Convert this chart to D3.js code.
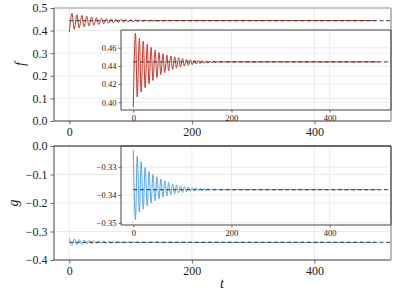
<!DOCTYPE html>
<html>
<head>
<meta charset="utf-8">
<script src="https://cdn.jsdelivr.net/npm/d3@7"></script>
<style>
  body { margin: 0; background: #fff; }
  svg { display: block; }
  text { font-family: "Liberation Serif", "DejaVu Serif", serif; fill: #222; }
</style>
</head>
<body>
<div id="chart"></div>
<script>
// turning points of the two series
const tVals = [0, 4.5, 8, 12.5, 16, 20.5, 24, 28.5, 32, 36.5, 40, 44.5, 48, 52.5, 56, 60.5,
  64, 68.5, 72, 76.5, 80, 84.5, 88, 92.5, 96, 100.5, 104, 108.5, 112, 116.5, 120, 124.5,
  128, 132.5, 136, 140.5, 144, 148.5, 152, 156.5, 160, 164.5, 168, 172.5, 176, 180.5,
  184, 190, 300, 400, 500];
const fVals = [0.3949, 0.4759, 0.4058, 0.4704, 0.4112, 0.4674, 0.4160, 0.4640, 0.4204, 0.4604,
  0.4240, 0.4574, 0.4269, 0.4548, 0.4305, 0.4534, 0.4326, 0.4521, 0.4346, 0.4509,
  0.4362, 0.4499, 0.4376, 0.4490, 0.4388, 0.4482, 0.4398, 0.4475, 0.4407, 0.4469,
  0.4414, 0.4464, 0.4420, 0.4460, 0.4425, 0.4456, 0.4429, 0.4453, 0.4433, 0.4451,
  0.4436, 0.4449, 0.4438, 0.4448, 0.4440, 0.4447, 0.4442, 0.4444, 0.4444, 0.4444, 0.4444];
const gVals = [-0.3240, -0.3489, -0.3261, -0.3462, -0.3280, -0.3451, -0.3301, -0.3439, -0.3315, -0.3429,
  -0.3326, -0.3421, -0.3335, -0.3414, -0.3343, -0.3408, -0.3349, -0.3403, -0.3355, -0.3399,
  -0.3360, -0.3396, -0.3364, -0.3393, -0.3367, -0.3391, -0.3370, -0.3389, -0.3372, -0.3387,
  -0.3374, -0.3386, -0.3375, -0.3385, -0.3376, -0.3384, -0.3377, -0.3384, -0.3378, -0.3383,
  -0.3379, -0.3383, -0.3379, -0.3382, -0.3380, -0.3382, -0.3381, -0.3381, -0.3381, -0.3381, -0.3381];
const fEq = 0.4444;
const gEq = -0.3381;

const xTicks = [0, 200, 400];
const fTicks = [0.0, 0.1, 0.2, 0.3, 0.4, 0.5];
const gTicks = [-0.4, -0.3, -0.2, -0.1, 0.0];
const fInsetTicks = [0.40, 0.42, 0.44, 0.46];
const gInsetTicks = [-0.35, -0.34, -0.33];

const width = 399;
const height = 299;
const red = "#c0392b";
const blue = "#55a7e6";

const svg = d3.select("#chart").append("svg")
  .attr("width", width)
  .attr("height", height);

let clipId = 0;

// one set of axes: box = {x0, x1, y0, y1}
function panel(box, yDomain, yTicks, yFmt, values, eq, color, opt) {
  const x = d3.scaleLinear().domain([-25, 525]).range([box.x0, box.x1]);
  const y = d3.scaleLinear().domain(yDomain).range([box.y1, box.y0]);
  const g = svg.append("g");

  // grid
  g.append("g").selectAll("line").data(xTicks).join("line")
    .attr("x1", d => x(d)).attr("x2", d => x(d))
    .attr("y1", box.y0).attr("y2", box.y1)
    .attr("stroke", "#e6e6e6").attr("stroke-width", 0.8);
  g.append("g").selectAll("line").data(yTicks).join("line")
    .attr("x1", box.x0).attr("x2", box.x1)
    .attr("y1", d => y(d)).attr("y2", d => y(d))
    .attr("stroke", "#e6e6e6").attr("stroke-width", 0.8);

  // data
  const id = "clip" + (clipId++);
  svg.append("clipPath").attr("id", id).append("rect")
    .attr("x", box.x0).attr("y", box.y0)
    .attr("width", box.x1 - box.x0).attr("height", box.y1 - box.y0);

  const pts = tVals.map((t, i) => [t, values[i]]);
  const line = d3.line().x(d => x(d[0])).y(d => y(d[1])).curve(d3.curveMonotoneX);
  g.append("path")
    .attr("clip-path", `url(#${id})`)
    .attr("d", line(pts))
    .attr("fill", "none")
    .attr("stroke", color)
    .attr("stroke-width", 1)
    .attr("stroke-linejoin", "round");
  g.append("line")
    .attr("clip-path", `url(#${id})`)
    .attr("x1", x(0)).attr("x2", box.x1)
    .attr("y1", y(eq)).attr("y2", y(eq))
    .attr("stroke", "rgba(40,40,40,0.75)")
    .attr("stroke-width", 1.2)
    .attr("stroke-dasharray", "4,2.6");

  // axes
  const xAxis = g.append("g")
    .attr("transform", `translate(0,${box.y1})`)
    .call(d3.axisBottom(x).tickValues(xTicks).tickFormat(d3.format("d"))
      .tickSizeInner(opt.tick).tickSizeOuter(0).tickPadding(opt.pad));
  const yAxis = g.append("g")
    .attr("transform", `translate(${box.x0},0)`)
    .call(d3.axisLeft(y).tickValues(yTicks).tickFormat(d3.format(yFmt))
      .tickSizeInner(opt.tick).tickSizeOuter(0).tickPadding(opt.pad));
  [xAxis, yAxis].forEach(a => {
    a.select(".domain").remove();
    a.selectAll("line").attr("stroke", "#444").attr("stroke-width", 0.8);
    a.selectAll("text").attr("font-size", opt.font)
      .attr("font-family", '"Liberation Serif", "DejaVu Serif", serif')
      .attr("fill", "#222");
  });

  // spines
  g.append("line").attr("x1", box.x0).attr("x2", box.x0).attr("y1", box.y0).attr("y2", box.y1)
    .attr("stroke", "#444").attr("stroke-width", 1);
  g.append("line").attr("x1", box.x0).attr("x2", box.x1).attr("y1", box.y1).attr("y2", box.y1)
    .attr("stroke", "#444").attr("stroke-width", 1);
  g.append("line").attr("x1", box.x0).attr("x2", box.x1).attr("y1", box.y0).attr("y2", box.y0)
    .attr("stroke", opt.topColor).attr("stroke-width", 1);
  g.append("line").attr("x1", box.x1).attr("x2", box.x1).attr("y1", box.y0).attr("y2", box.y1)
    .attr("stroke", opt.rightColor).attr("stroke-width", opt.rightWidth);
}

const mainOpt = { tick: 3.5, pad: 3, font: 12, topColor: "#999", rightColor: "#aaa", rightWidth: 1.6 };
const insetOpt = { tick: 2.5, pad: 2, font: 8.5, topColor: "#444", rightColor: "#444", rightWidth: 1 };

// top: f
panel({ x0: 54, x1: 391, y0: 8, y1: 121 }, [0, 0.5], fTicks, ".1f", fVals, fEq, red, mainOpt);
panel({ x0: 121, x1: 391, y0: 30, y1: 110 }, [0.3915, 0.4795], fInsetTicks, ".2f", fVals, fEq, red, insetOpt);

// bottom: g
panel({ x0: 54, x1: 391, y0: 146, y1: 260 }, [-0.4, 0], gTicks, ".1f", gVals, gEq, blue,
  Object.assign({}, mainOpt, { topColor: "#222" }));
panel({ x0: 121, x1: 391, y0: 146, y1: 225 }, [-0.3508, -0.3224], gInsetTicks, ".2f", gVals, gEq, blue, insetOpt);

// axis labels
svg.append("text")
  .attr("transform", "translate(25,64) rotate(-90)")
  .attr("text-anchor", "middle")
  .attr("font-size", 14).attr("font-style", "italic")
  .text("f");
svg.append("text")
  .attr("transform", "translate(18,203) rotate(-90)")
  .attr("text-anchor", "middle")
  .attr("font-size", 14).attr("font-style", "italic")
  .text("g");
svg.append("text")
  .attr("x", 222).attr("y", 288)
  .attr("text-anchor", "middle")
  .attr("font-size", 14).attr("font-style", "italic")
  .text("t");
</script>
</body>
</html>
